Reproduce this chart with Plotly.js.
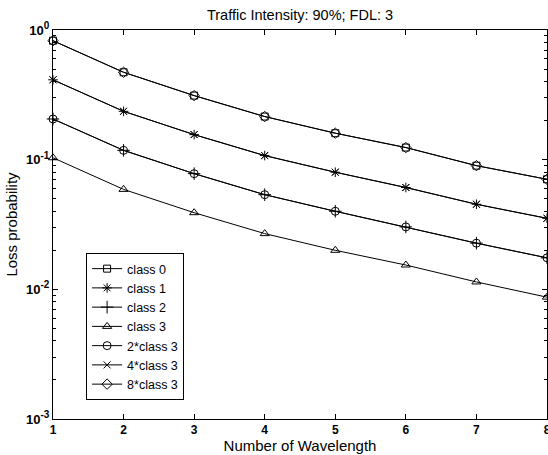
<!DOCTYPE html>
<html>
<head>
<meta charset="utf-8">
<script src="https://cdn.plot.ly/plotly-3.0.1.min.js"></script>
<style>html,body{margin:0;padding:0;background:#fff;}#chart{width:548px;height:455px;}</style>
</head>
<body>
<div id="chart"></div>
<script>
var wavelengths = [1, 2, 3, 4, 5, 6, 7, 8];
var class0 = [0.827, 0.472, 0.312, 0.215, 0.160, 0.124, 0.0899, 0.0706];
var class1 = [0.413, 0.236, 0.156, 0.1075, 0.080, 0.061, 0.0453, 0.0353];
var class2 = [0.206, 0.118, 0.078, 0.0537, 0.040, 0.0303, 0.0227, 0.0175];
var class3 = [0.1034, 0.059, 0.039, 0.0269, 0.020, 0.0154, 0.0114, 0.0087];
var class3x2 = [0.206, 0.118, 0.078, 0.0537, 0.040, 0.0303, 0.0227, 0.0175];
var class3x4 = [0.413, 0.236, 0.156, 0.1075, 0.080, 0.061, 0.0453, 0.0353];
var class3x8 = [0.827, 0.472, 0.312, 0.215, 0.160, 0.124, 0.0899, 0.0706];
var seriesNames = ['class 0', 'class 1', 'class 2', 'class 3', '2*class 3', '4*class 3', '8*class 3'];
var yTickVals = [0.001, 0.01, 0.1, 1];
var yTickExps = ['-3', '-2', '-1', '0'];
var xTickVals = [1, 2, 3, 4, 5, 6, 7, 8];

var yTickText = yTickExps.map(function (e) {
  return '10<sup><span style="font-size:10px">' + e + '</span></sup>';
});

var allSeries = [class0, class1, class2, class3, class3x2, class3x4, class3x8];
var symbols = ['square-open', 'asterisk-open', 'cross-thin-open', 'triangle-up-open', 'circle-open', 'x-thin-open', 'diamond-open'];
var sizes = [7, 8, 9, 8, 8, 7, 8];

var traces = allSeries.map(function (ys, i) {
  return {
    x: wavelengths,
    y: ys,
    name: seriesNames[i],
    type: 'scatter',
    mode: 'lines+markers',
    cliponaxis: false,
    line: {color: '#000', width: 1},
    marker: {symbol: symbols[i], size: sizes[i], color: '#000', line: {color: '#000', width: 1}}
  };
});

var font = 'Liberation Sans, Arial, Helvetica, sans-serif';
var layout = {
  width: 548,
  height: 455,
  margin: {l: 53, r: 1, t: 30, b: 36},
  paper_bgcolor: '#fff',
  plot_bgcolor: '#fff',
  font: {family: font, color: '#000', size: 12},
  showlegend: true,
  title: {
    text: 'Traffic Intensity: 90%; FDL: 3',
    font: {family: font, size: 14.5, color: '#000'},
    x: 0.5475, xanchor: 'center', y: 0.968, yanchor: 'middle'
  },
  xaxis: {
    range: [1, 8],
    tickmode: 'array',
    tickvals: xTickVals,
    ticks: 'inside',
    ticklen: 5,
    tickcolor: '#000',
    showline: true,
    linecolor: '#000',
    linewidth: 1,
    mirror: 'ticks',
    showgrid: false,
    zeroline: false,
    ticklabeloverflow: 'allow',
    tickfont: {family: font, size: 12, weight: 'bold', color: '#000'},
    title: {text: 'Number of Wavelength', font: {family: font, size: 15, color: '#000'}, standoff: 4}
  },
  yaxis: {
    type: 'log',
    range: [-3, 0],
    tickmode: 'array',
    tickvals: yTickVals,
    ticktext: yTickText,
    ticks: 'inside',
    ticklen: 5,
    tickcolor: '#000',
    showline: true,
    linecolor: '#000',
    linewidth: 1,
    mirror: 'ticks',
    showgrid: false,
    zeroline: false,
    ticklabeloverflow: 'allow',
    tickfont: {family: font, size: 13, weight: 'bold', color: '#000'},
    minor: {ticks: 'inside', ticklen: 3, tickcolor: '#000', dtick: 'D1', showgrid: false},
    title: {text: 'Loss probability', font: {family: font, size: 15, color: '#000'}, standoff: 4}
  },
  legend: {
    x: 0.067, y: 0.4267, xanchor: 'left', yanchor: 'top',
    bgcolor: '#fff',
    bordercolor: '#000',
    borderwidth: 1,
    font: {family: font, size: 12.5, color: '#000'},
    itemwidth: 30,
    tracegroupgap: 0
  }
};

Plotly.newPlot('chart', traces, layout, {displayModeBar: false, staticPlot: true});
</script>
</body>
</html>
